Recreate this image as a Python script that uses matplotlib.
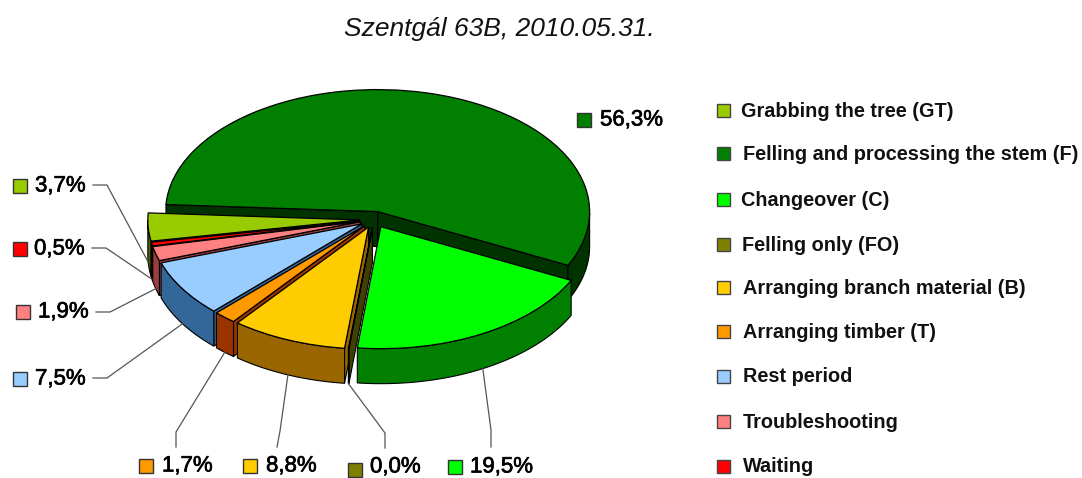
import numpy as np
import matplotlib
matplotlib.use('Agg')
import matplotlib.pyplot as plt
import matplotlib.patheffects as pe
from matplotlib.patches import Rectangle

plt.rcParams['font.family'] = ['Liberation Sans', 'DejaVu Sans']

title = 'Szentgál 63B, 2010.05.31.'
names = ['Grabbing the tree (GT)', 'Felling and processing the stem (F)', 'Changeover (C)',
         'Felling only (FO)', 'Arranging branch material (B)', 'Arranging timber (T)',
         'Rest period', 'Troubleshooting', 'Waiting']
values = [3.7, 56.3, 19.5, 0.04, 8.8, 1.7, 7.5, 1.9, 0.5]
top_colors = ['#99cc00', '#007f00', '#00ff00', '#808000', '#ffcc00', '#ff9900', '#99ccff', '#ff8080', '#ff0000']
wall_colors = ['#4d6600', '#003300', '#007f00', '#404000', '#996600', '#993300', '#336699', '#993f3f', '#800000']

W, H = 1082, 478
cx, cy = 374, 219.5
rx, ry = 212, 122
depth = 35 / ry
explode_by = 0.067

# pixel layout of the hand placed labels: marker centre, text x, text y
label_marker = [(20, 186), (584, 120), (455, 467), (355, 470), (250, 466), (146, 466), (20, 379), (23, 312), (20, 249)]
label_text_x = [35, 600, 470, 370, 266, 162, 35, 38, 34]
leader_start = [(93, 185), None, (491, 447), (385, 448), (277, 447), (176, 447), (93, 378), (96, 312), (92, 248)]
leader_elbow = [(107, 185), None, (491, 430), (385, 433), (280, 431), (176, 432), (107, 378), (110, 312), (106, 248)]
legend_y = [110, 153, 199, 244, 287, 331, 376, 421, 466]
legend_text_x = [741, 743, 741, 742, 743, 743, 743, 743, 743]
paint_order = [1, 2, 0, 8, 7, 6, 5, 4, 3]

fig = plt.figure(figsize=(W / 100, H / 100), dpi=100)
ax = fig.add_axes([0, 0, 1, 1])
wedges, _ = ax.pie(values, explode=[explode_by] * len(values), colors=top_colors, startangle=190,
                   counterclock=False, radius=1, wedgeprops={'edgecolor': 'black', 'linewidth': 0.9})
# squash the circle into the perspective ellipse
ax.set_aspect('auto')
ax.set_xlim(-cx / rx, (W - cx) / rx)
ax.set_ylim((cy - H) / ry, cy / ry)

z = 2
for i in paint_order:
    w = wedges[i]
    x0, y0 = w.center
    t1, t2 = w.theta1, w.theta2
    # cut faces, only those turned to the viewer
    for t, normal in [(t1, t1 - 90), (t2, t2 + 90)]:
        if np.sin(np.radians(normal)) < 0:
            ex = x0 + np.cos(np.radians(t))
            ey = y0 + np.sin(np.radians(t))
            ax.fill([x0, ex, ex, x0], [y0, ey, ey - depth, y0 - depth], fc=wall_colors[i],
                    ec='black', lw=0.8, zorder=z)
            z += 1
    # outer wall, front half only
    ang = np.linspace(t1, t2, 200)
    ang = ang[np.sin(np.radians(ang)) <= 0]
    if len(ang) > 1:
        ax_x = x0 + np.cos(np.radians(ang))
        ax_y = y0 + np.sin(np.radians(ang))
        ax.fill(np.r_[ax_x, ax_x[::-1]], np.r_[ax_y, ax_y[::-1] - depth], fc=wall_colors[i],
                ec='black', lw=0.8, zorder=z)
        z += 1
    w.set_zorder(z)
    z += 1

# overlay in pixels for labels and legend
ov = fig.add_axes([0, 0, 1, 1])
ov.set_xlim(0, W)
ov.set_ylim(H, 0)
ov.axis('off')
ov.patch.set_alpha(0)

ov.text(499.5, 29, title, ha='center', va='center', fontsize=19, style='italic', color='#111111')

heavy = [pe.withStroke(linewidth=0.5, foreground='black')]
for i, v in enumerate(values):
    mx, my = label_marker[i]
    ov.add_patch(Rectangle((mx - 7, my - 7), 14, 14, fc=top_colors[i], ec='#333333', lw=1))
    t = ov.text(label_text_x[i], min(my, 467), f'{v:.1f}'.replace('.', ',') + '%', fontsize=16,
                va='center', ha='left', color='black')
    t.set_path_effects(heavy)
    if leader_start[i] is not None:
        w = wedges[i]
        mid = np.radians((w.theta1 + w.theta2) / 2)
        ex = cx + rx * (w.center[0] + np.cos(mid))
        ey = cy - ry * (w.center[1] + np.sin(mid) - depth)
        ov.plot([leader_start[i][0], leader_elbow[i][0], ex], [leader_start[i][1], leader_elbow[i][1], ey],
                color='#555555', lw=0.9, zorder=1)

for i, name in enumerate(names):
    ov.add_patch(Rectangle((717, legend_y[i] - 6.5), 13, 13, fc=top_colors[i], ec='#444444', lw=1))
    ov.text(legend_text_x[i], legend_y[i] + 1, name, fontsize=14.3, fontweight='bold',
            va='center', ha='left', color='#111111')

fig.savefig('out.png', dpi=100)
